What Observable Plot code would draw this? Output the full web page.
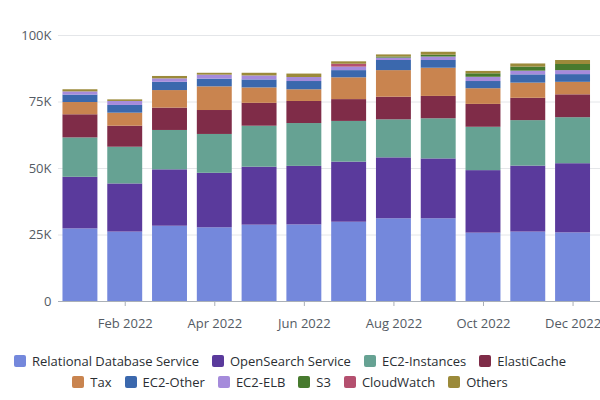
<!DOCTYPE html>
<html><head><meta charset="utf-8">
<script src="https://cdn.jsdelivr.net/npm/d3@7"></script>
<script src="https://cdn.jsdelivr.net/npm/@observablehq/plot@0.6"></script>
<style>
body{margin:0;background:#fff;font-family:"Open Sans",sans-serif;}
#chart{width:600px;}
.legend{width:580px;margin:12px 0 0 0;}
.row{display:flex;justify-content:center;height:21px;align-items:center;}
.item{display:flex;align-items:center;margin:0 6.5px;font-size:13px;color:#2a2e33;white-space:nowrap;}
.sw{width:12px;height:12px;border-radius:2px;margin-right:6px;}
</style></head><body><div id="chart"></div><script>
const months = ["Jan 2022","Feb 2022","Mar 2022","Apr 2022","May 2022","Jun 2022","Jul 2022","Aug 2022","Sep 2022","Oct 2022","Nov 2022","Dec 2022"];
const series = ["Relational Database Service","OpenSearch Service","EC2-Instances","ElastiCache","Tax","EC2-Other","EC2-ELB","S3","CloudWatch","Others"];
const colors = ["#7488dc","#5a3a9c","#66a293","#7f2c48","#c9844f","#3b68ad","#a58bdb","#477a2e","#b4506f","#9b8a3a"];
const rds        = [27300,26100,28300,27700,28700,28800,29800,31100,31100,25700,26100,25800];
const openSearch = [19400,18100,21200,20500,21800,22000,22600,22900,22500,23500,24800,26000];
const ec2Inst    = [14800,13800,14800,14600,15400,16100,15300,14300,15100,16300,17100,17300];
const elastiCache= [8700,7900,8400,9000,8600,8300,8200,8500,8400,8600,8400,8600];
const tax        = [4600,4900,6600,8900,5800,4400,8200,10000,10600,5900,5700,4700];
const ec2Other   = [2800,2900,3100,2900,3000,3100,2700,3800,2900,2700,3100,2900];
const ec2Elb     = [1200,1500,1300,1500,1500,1500,1300,900,1300,1600,1400,1500];
const s3         = [0,0,0,0,0,0,0,400,700,1300,1500,2300];
const cloudWatch = [0,0,0,0,0,0,1100,0,0,0,0,0];
const others     = [800,600,900,700,1000,1300,900,800,1100,900,1200,1500];
const yTicks = [0,25000,50000,75000,100000];
const xTicks = ["Feb 2022","Apr 2022","Jun 2022","Aug 2022","Oct 2022","Dec 2022"];

const values = [rds,openSearch,ec2Inst,elastiCache,tax,ec2Other,ec2Elb,s3,cloudWatch,others];
const data = [];
series.forEach((s,i)=>months.forEach((m,j)=>data.push({month:m,service:s,value:values[i][j]})));

const plot = Plot.plot({
  width:600,height:338,
  marginLeft:58,marginRight:0,marginTop:35,marginBottom:37,
  style:{fontFamily:"Open Sans",fontSize:"13px",color:"#545b64",background:"#fff"},
  x:{domain:months,range:[58,594.5],paddingInner:0.22,paddingOuter:0.1,round:false,label:null},
  y:{domain:[0,100000],label:null},
  color:{domain:series,range:colors},
  marks:[
    Plot.ruleY(yTicks.filter(d=>d>0),{stroke:"#e4e6e9",strokeWidth:1}),
    Plot.barY(data,Plot.stackY({x:"month",y:"value",fill:"service",order:series})),
    Plot.ruleY([0],{stroke:"#aab0b7",strokeWidth:1}),
    Plot.axisY({ticks:yTicks,tickSize:0,tickPadding:7,tickFormat:d=>d===0?"0":d/1000+"K",fill:"#545b64"}),
    Plot.axisX({ticks:xTicks,tickSize:5,tickPadding:12,stroke:"#aab0b7",fill:"#545b64"})
  ]
});
document.getElementById("chart").appendChild(plot);

const legend = document.createElement("div");
legend.className="legend";
[series.slice(0,4),series.slice(4)].forEach(rowItems=>{
  const row=document.createElement("div");row.className="row";
  rowItems.forEach(s=>{
    const it=document.createElement("div");it.className="item";
    const sw=document.createElement("div");sw.className="sw";sw.style.background=colors[series.indexOf(s)];
    const t=document.createElement("span");t.textContent=s;
    it.appendChild(sw);it.appendChild(t);row.appendChild(it);
  });
  legend.appendChild(row);
});
document.getElementById("chart").appendChild(legend);
</script></body></html>
